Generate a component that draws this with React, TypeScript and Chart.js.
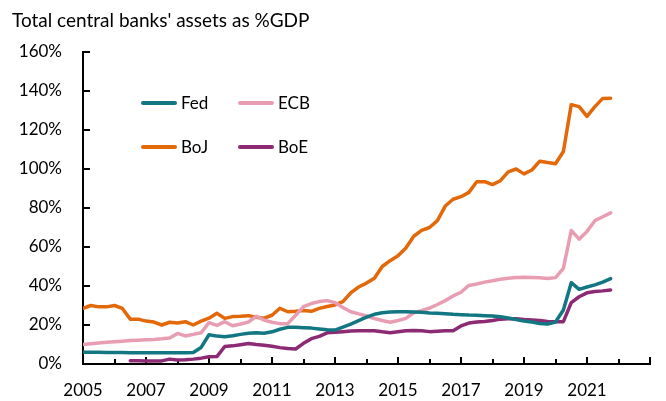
import React, { useEffect, useRef } from "react";
import { Chart, registerables } from "chart.js";

Chart.register(...registerables);

// ---------- data ----------
const START_YEAR = 2005;
const X_MIN = 2005;
const X_MAX = 2023;
const Y_TICKS = [0, 20, 40, 60, 80, 100, 120, 140, 160];
const X_LABEL_YEARS = [2005, 2007, 2009, 2011, 2013, 2015, 2017, 2019, 2021];

// quarterly observations 2005Q1 .. 2021Q4 (% of GDP)
const FED = [
  6.0, 6.0, 6.0, 5.9, 5.9, 5.9, 5.8, 5.8, 5.8, 5.8, 5.8, 5.8, 5.8, 5.8, 5.9, 8.5,
  15.0, 14.3, 14.0, 14.5, 15.2, 15.8, 16.0, 15.8, 16.5, 17.8, 18.8, 18.8, 18.6, 18.4, 18.0, 17.6,
  17.4, 18.9, 20.5, 22.2, 24.0, 25.5, 26.3, 26.7, 26.8, 26.8, 26.7, 26.5, 26.2, 26.0, 25.8, 25.5,
  25.3, 25.1, 25.0, 24.8, 24.6, 24.2, 23.6, 22.8, 22.0, 21.5, 20.8, 20.5, 21.5, 27.7, 41.7, 38.3,
  39.5, 40.6, 42.0, 43.8,
];
const ECB = [
  10.0, 10.4, 10.8, 11.1, 11.4, 11.7, 12.0, 12.2, 12.4, 12.6, 12.9, 13.3, 15.7, 14.4, 15.2, 16.0,
  21.2, 19.8, 21.7, 19.6, 20.5, 21.5, 24.5, 22.5, 21.4, 20.7, 20.7, 25.0, 29.4, 31.0, 32.0, 32.5,
  31.5, 29.0, 26.8, 25.7, 24.6, 23.3, 22.3, 21.4, 22.3, 23.4, 26.3, 27.4, 28.7, 30.5, 32.5, 34.9,
  36.8, 40.3, 41.0, 42.0, 42.7, 43.5, 44.0, 44.3, 44.5, 44.4, 44.2, 43.8, 44.3, 49.0, 68.5, 64.0,
  68.0, 73.5, 75.5, 77.5,
];
const BOJ = [
  28.5, 30.0, 29.3, 29.3, 30.0, 28.5, 23.0, 23.0, 22.0, 21.5, 20.0, 21.4, 21.0, 21.7, 20.0, 22.0,
  23.5, 26.0, 23.4, 24.3, 24.5, 24.8, 24.0, 23.5, 25.0, 28.6, 26.8, 27.0, 27.4, 27.0, 28.5, 29.5,
  30.3, 32.0, 36.5, 39.5, 41.5, 44.0, 50.0, 53.0, 55.5, 59.5, 65.5, 68.5, 70.0, 73.5, 81.0, 84.5,
  85.8, 88.0, 93.5, 93.5, 92.0, 94.0, 98.5, 100.0, 97.5, 99.5, 104.0, 103.3, 102.7, 109.0, 133.0, 132.0,
  127.0, 132.0, 136.2, 136.3,
];
const BOE = [
  null, null, null, null, null, null, 1.7, 1.7, 1.6, 1.5, 1.6, 2.5, 2.1, 2.2, 2.5, 3.0,
  3.7, 3.8, 9.0, 9.3, 9.9, 10.5, 10.0, 9.6, 9.1, 8.4, 8.0, 7.7, 10.6, 13.0, 14.2, 16.0,
  16.3, 16.6, 16.9, 17.1, 17.1, 17.1, 16.5, 16.0, 16.5, 17.0, 17.2, 17.0, 16.6, 16.8, 17.0, 17.1,
  19.5, 21.0, 21.5, 21.8, 22.3, 23.0, 23.2, 23.2, 22.8, 22.6, 22.3, 21.8, 21.7, 21.7, 31.5, 34.5,
  36.5, 37.2, 37.5, 38.0,
];

const QUARTERS = FED.map((_, i) => START_YEAR + i / 4);

const SERIES = [
  { label: "Fed", values: FED, color: "#127782" },
  { label: "ECB", values: ECB, color: "#E89DB2" },
  { label: "BoJ", values: BOJ, color: "#E2680A" },
  { label: "BoE", values: BOE, color: "#8C2A74" },
];

const FONT = "Lato, 'Open Sans', 'Liberation Sans', sans-serif";

const W = 666;
const H = 401;

const innerTicks = {
  id: "innerTicks",
  beforeDatasetsDraw(chart: any) {
    const { ctx, chartArea, scales } = chart;
    const x = scales.x;
    const y = scales.y;
    ctx.save();
    ctx.strokeStyle = "#000";
    ctx.lineWidth = 2;
    Y_TICKS.forEach((v) => {
      const py = Math.round(y.getPixelForValue(v));
      ctx.beginPath();
      ctx.moveTo(chartArea.left, py);
      ctx.lineTo(chartArea.left + 7, py);
      ctx.stroke();
    });
    for (let yr = X_MIN; yr <= X_MAX; yr++) {
      const px = Math.round(x.getPixelForValue(yr));
      const len = (yr - X_MIN) % 2 === 0 ? 7 : 5;
      ctx.beginPath();
      ctx.moveTo(px, chartArea.bottom);
      ctx.lineTo(px, chartArea.bottom - len);
      ctx.stroke();
    }
    ctx.restore();
  },
};

export default function App() {
  const ref = useRef<HTMLCanvasElement | null>(null);

  useEffect(() => {
    if (!ref.current) return;
    const chart = new Chart(ref.current, {
      type: "line",
      data: {
        datasets: SERIES.map((s) => ({
          label: s.label,
          data: s.values.map((v, i) => ({ x: QUARTERS[i], y: v })),
          borderColor: s.color,
          backgroundColor: s.color,
          borderWidth: 3.5,
          pointRadius: 0,
          tension: 0,
          borderJoinStyle: "round",
          borderCapStyle: "round",
          spanGaps: false,
        })),
      },
      options: {
        responsive: false,
        animation: false,
        devicePixelRatio: 1,
        layout: { padding: { top: 52, right: 5, bottom: 0, left: 0 } },
        plugins: {
          legend: { display: false },
          title: { display: false },
          tooltip: { enabled: false },
        },
        scales: {
          x: {
            type: "linear",
            min: X_MIN,
            max: X_MAX,
            afterFit: (s: any) => {
              s.height = H - 364;
            },
            afterBuildTicks: (s: any) => {
              const t = [];
              for (let yr = X_MIN; yr <= X_MAX; yr++) t.push({ value: yr });
              s.ticks = t;
            },
            grid: { display: false, drawTicks: false },
            border: { display: true, color: "#000", width: 2 },
            ticks: {
              autoSkip: false,
              maxRotation: 0,
              padding: 16,
              color: "#000",
              font: { family: FONT, size: 17 },
              callback: (v: any) => (X_LABEL_YEARS.includes(Number(v)) ? String(v) : ""),
            },
          },
          y: {
            min: 0,
            max: 160,
            afterFit: (s: any) => {
              s.width = 83;
            },
            grid: { display: false, drawTicks: false },
            border: { display: true, color: "#000", width: 2 },
            ticks: {
              stepSize: 20,
              padding: 21,
              color: "#000",
              font: { family: FONT, size: 17 },
              callback: (v: any) => `${v}%`,
            },
          },
        },
      },
      plugins: [innerTicks],
    });
    return () => chart.destroy();
  }, []);

  const legendRows = [
    [SERIES[0], SERIES[1]],
    [SERIES[2], SERIES[3]],
  ];
  const rowY = [103, 147];
  const colX = [141, 238];

  return (
    <div
      style={{
        position: "fixed",
        left: 0,
        top: 0,
        width: W,
        height: H,
        background: "#fff",
        overflow: "hidden",
        fontFamily: FONT,
      }}
    >
      <canvas ref={ref} width={W} height={H} style={{ width: W, height: H, display: "block" }} />
      <div
        style={{
          position: "absolute",
          left: 12,
          top: 8,
          fontSize: 19,
          lineHeight: "24px",
          color: "#000",
          whiteSpace: "nowrap",
        }}
      >
        Total central banks' assets as %GDP
      </div>
      {legendRows.map((row, ri) =>
        row.map((s, ci) => (
          <div
            key={s.label}
            style={{
              position: "absolute",
              left: colX[ci],
              top: rowY[ri] - 12,
              height: 24,
              display: "flex",
              alignItems: "center",
              whiteSpace: "nowrap",
            }}
          >
            <span
              style={{
                display: "inline-block",
                width: 36,
                height: 4,
                borderRadius: 2,
                background: s.color,
                marginRight: 4,
              }}
            />
            <span style={{ fontSize: 17, color: "#000", lineHeight: "24px" }}>{s.label}</span>
          </div>
        ))
      )}
    </div>
  );
}
